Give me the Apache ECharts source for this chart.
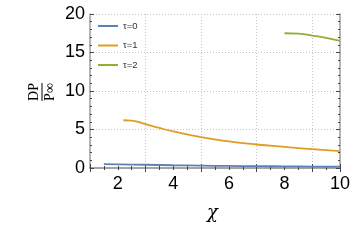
<!DOCTYPE html>
<html><head><meta charset="utf-8">
<script src="https://cdn.jsdelivr.net/npm/echarts@6/dist/echarts.min.js"></script>
<style>html,body{margin:0;padding:0;background:#fff}#c{width:361px;height:243px}</style>
</head><body><div id="c"></div>
<script>
const seriesNames = ['τ=0', 'τ=1', 'τ=2'];
const x0 = [1.5, 2, 3, 4, 5, 6, 7, 8, 9, 10];
const y0 = [0.5, 0.48, 0.42, 0.36, 0.31, 0.27, 0.24, 0.21, 0.19, 0.17];
const x1 = [2.2, 2.5, 3, 3.5, 4, 5, 6, 7, 8, 9, 10];
const y1 = [6.2, 6.15, 5.7, 5.2, 4.75, 4.0, 3.45, 3.05, 2.75, 2.45, 2.2];
const x2 = [8, 8.5, 9, 9.5, 10];
const y2 = [17.5, 17.45, 17.2, 16.9, 16.5];
const colors = ['#5E81B5', '#E19C24', '#8FB032'];

const zip = (a, b) => a.map((v, i) => [v, b[i]]);
const frame = '#a0a0a0';
const tickStyle = { show: true, inside: true, length: 4, lineStyle: { color: '#444', width: 1 } };
const minorStyle = (n) => ({ show: true, splitNumber: n, length: 2, lineStyle: { color: '#444', width: 1 } });
const labelFont = { color: '#000', fontFamily: 'Liberation Sans', fontSize: 18 };

const chart = echarts.init(document.getElementById('c'), null, { renderer: 'canvas' });
chart.setOption({
  animation: false,
  color: colors,
  grid: { left: 90, right: 21, top: 14, bottom: 75, containLabel: false },
  legend: {
    orient: 'vertical', left: 98, top: 21, padding: 0, itemWidth: 20, itemHeight: 2, itemGap: 9.5,
    icon: 'rect',
    data: seriesNames,
    textStyle: { fontSize: 9.5, color: '#333', fontFamily: 'Liberation Sans' }
  },
  xAxis: [
    { type: 'value', min: 1, max: 10, interval: 2, position: 'bottom',
      axisLine: { show: true, lineStyle: { color: frame, width: 1.5 } },
      axisTick: tickStyle, minorTick: minorStyle(4),
      axisLabel: Object.assign({ margin: 7, customValues: [2,4,6,8,10] }, labelFont),
      splitLine: { show: true, lineStyle: { color: '#c4c4c4', type: [1, 2], width: 1 } } },
    { type: 'value', min: 1, max: 10, interval: 2, position: 'top',
      axisLine: { show: true, lineStyle: { color: frame, width: 1.5 } },
      axisTick: tickStyle, minorTick: minorStyle(4),
      axisLabel: { show: false }, splitLine: { show: false } }
  ],
  yAxis: [
    { type: 'value', min: 0, max: 20, interval: 5, position: 'left',
      axisLine: { show: true, lineStyle: { color: frame, width: 1.5 } },
      axisTick: tickStyle, minorTick: minorStyle(5),
      axisLabel: Object.assign({ margin: 5 }, labelFont),
      splitLine: { show: true, lineStyle: { color: '#c4c4c4', type: [1, 2], width: 1 } } },
    { type: 'value', min: 0, max: 20, interval: 5, position: 'right',
      axisLine: { show: true, lineStyle: { color: frame, width: 1.5 } },
      axisTick: tickStyle, minorTick: minorStyle(5),
      axisLabel: { show: false }, splitLine: { show: false } }
  ],
  series: [
    { name: seriesNames[0], type: 'line', data: zip(x0, y0), smooth: true, showSymbol: false, lineStyle: { width: 1.8 } },
    { name: seriesNames[1], type: 'line', data: zip(x1, y1), smooth: true, showSymbol: false, lineStyle: { width: 1.8 } },
    { name: seriesNames[2], type: 'line', data: zip(x2, y2), smooth: true, showSymbol: false, lineStyle: { width: 1.8 } }
  ],
  graphic: [
    { type: 'text', left: 207, top: 204,
      style: { text: 'χ', fontFamily: 'DejaVu Serif', fontStyle: 'italic', fontSize: 18, fill: '#000' } },
    { type: 'group', x: 42, y: 92, rotation: Math.PI / 2,
      children: [
        { type: 'text', x: 0, y: -1, style: { text: 'DP', fontFamily: 'Liberation Serif', fontSize: 14, fill: '#000', align: 'center', verticalAlign: 'bottom' } },
        { type: 'line', shape: { x1: -9, y1: 0, x2: 9, y2: 0 }, style: { stroke: '#000', lineWidth: 1 } },
        { type: 'text', x: 0, y: 1, style: { text: 'P∞', fontFamily: 'Liberation Serif', fontSize: 14, fill: '#000', align: 'center', verticalAlign: 'top' } }
      ] }
  ]
});
</script></body></html>
